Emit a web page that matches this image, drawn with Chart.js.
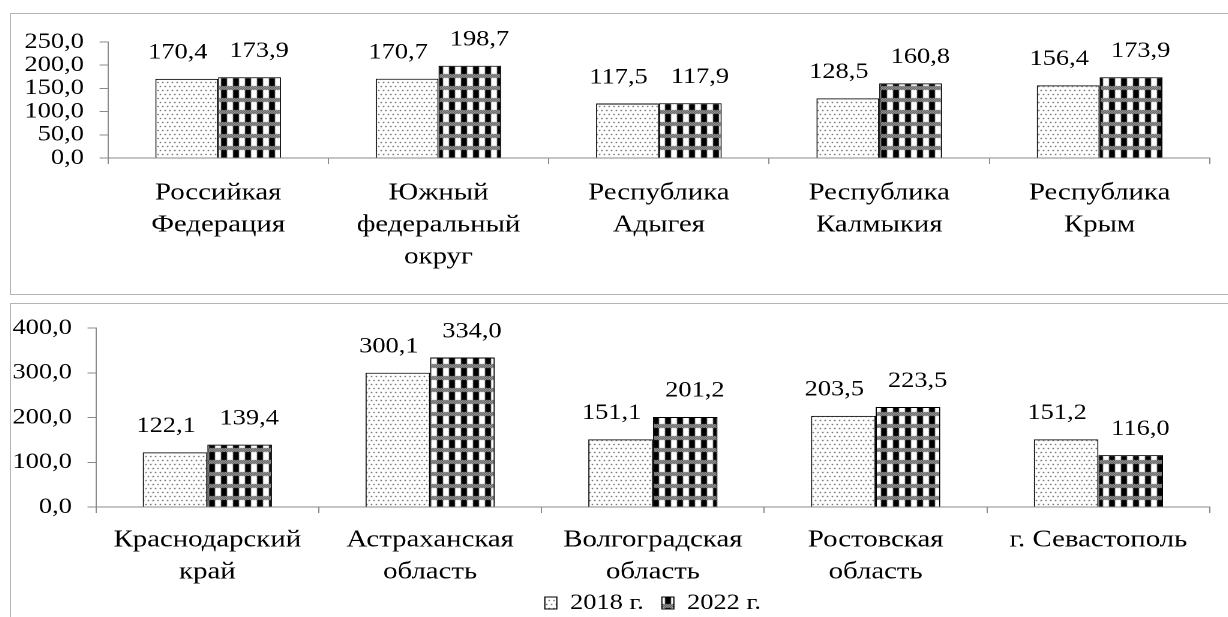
<!DOCTYPE html>
<html lang="ru">
<head>
<meta charset="UTF-8">
<title>2018 / 2022</title>
<script src="https://cdn.jsdelivr.net/npm/chart.js@4"></script>
<style>
  html, body { margin: 0; padding: 0; background: #fff; overflow: hidden; }
  body { width: 1228px; height: 617px; position: relative; }
  .box { position: absolute; left: 10px; width: 1240px; border: 1px solid #b4b4b4; box-sizing: border-box; }
  #boxTop { top: 13px; height: 282px; }
  #boxBottom { top: 303px; height: 340px; }
  /* the reference is stretched horizontally, so the drawing is too */
  .stretch { transform: scaleX(1.2); transform-origin: 0 0; }
</style>
</head>
<body>
<div class="box" id="boxTop"><div class="stretch"><canvas id="chartTop" width="1015" height="280"></canvas></div></div>
<div class="box" id="boxBottom"><div class="stretch"><canvas id="chartBottom" width="1015" height="320"></canvas></div></div>
<script>
// данные
const years = ['2018 г.', '2022 г.'];

const topCategories = [
  ['Российкая', 'Федерация'],
  ['Южный', 'федеральный', 'округ'],
  ['Республика', 'Адыгея'],
  ['Республика', 'Калмыкия'],
  ['Республика', 'Крым']
];
const top2018 = [170.4, 170.7, 117.5, 128.5, 156.4];
const top2022 = [173.9, 198.7, 117.9, 160.8, 173.9];
const topTicks = [0, 50, 100, 150, 200, 250];

const bottomCategories = [
  ['Краснодарский', 'край'],
  ['Астраханская', 'область'],
  ['Волгоградская', 'область'],
  ['Ростовская', 'область'],
  'г. Севастополь'
];
const bottom2018 = [122.1, 300.1, 151.1, 203.5, 151.2];
const bottom2022 = [139.4, 334.0, 201.2, 223.5, 116.0];
const bottomTicks = [0, 100, 200, 300, 400];

const FONT = 'Liberation Serif';
const AXIS = '#8a8a8a';

const fmt = v => v.toFixed(1).replace('.', ',');

// штриховки
function makePattern(w, h, draw) {
  const tile = document.createElement('canvas');
  tile.width = w;
  tile.height = h;
  const c = tile.getContext('2d');
  c.fillStyle = '#fff';
  c.fillRect(0, 0, w, h);
  draw(c);
  return c.createPattern(tile, 'repeat');
}

const dots = makePattern(4, 8, c => {
  c.fillStyle = '#111';
  c.fillRect(0, 0, 1, 1);
  c.fillRect(2, 4, 1, 1);
});

const checks = makePattern(10, 12, c => {
  for (let x = 0; x < 10; x++) {
    for (let y = 0; y < 4; y++) {
      c.fillStyle = (x + y) % 2 ? '#333' : '#c8c8c8';
      c.fillRect(x, y, 1, 1);
    }
  }
  c.fillStyle = '#000';
  c.fillRect(5, 4, 5, 8);
});

// подписи значений над столбцами (2018 чуть левее, 2022 чуть правее)
const labelShift = [-7.5, 8];
const valueLabels = {
  id: 'valueLabels',
  afterDatasetsDraw(chart) {
    const ctx = chart.ctx;
    ctx.save();
    ctx.font = '22px "' + FONT + '"';
    ctx.fillStyle = '#000';
    ctx.textAlign = 'center';
    ctx.textBaseline = 'middle';
    chart.data.datasets.forEach((ds, i) => {
      chart.getDatasetMeta(i).data.forEach((bar, j) => {
        ctx.fillText(fmt(ds.data[j]), bar.x + labelShift[i], bar.y - 26);
      });
    });
    ctx.restore();
  }
};

function makeChart(id, cats, d2018, d2022, ticks, cfg) {
  return new Chart(document.getElementById(id), {
    type: 'bar',
    data: {
      labels: cats,
      datasets: [
        { label: years[0], data: d2018, backgroundColor: dots, borderColor: '#000', borderWidth: 1 },
        { label: years[1], data: d2022, backgroundColor: checks, borderColor: '#000', borderWidth: 1 }
      ]
    },
    options: {
      responsive: false,
      animation: false,
      devicePixelRatio: 2,
      layout: { padding: cfg.padding },
      datasets: { bar: { barPercentage: 1, categoryPercentage: cfg.catPct } },
      plugins: {
        title: { display: false },
        tooltip: { enabled: false },
        legend: {
          display: cfg.legend,
          position: 'bottom',
          fullSize: false,
          labels: {
            color: '#000',
            font: { family: FONT, size: 22 },
            boxWidth: 10,
            boxHeight: 12,
            padding: 4,
            // немного воздуха между элементами легенды
            generateLabels: chart => Chart.defaults.plugins.legend.labels.generateLabels(chart)
              .map((item, i) => i === 0 ? Object.assign(item, { text: item.text + '\u2002' }) : item)
          }
        }
      },
      scales: {
        x: {
          grid: { display: true, drawOnChartArea: false, offset: true, color: AXIS, tickLength: 6 },
          border: { color: AXIS },
          ticks: {
            color: '#000',
            maxRotation: 0,
            autoSkip: false,
            padding: cfg.xPad,
            font: { family: FONT, size: 24, lineHeight: 1.333 }
          },
          afterFit: s => { s.height = cfg.xHeight; }
        },
        y: {
          min: ticks[0],
          max: ticks[ticks.length - 1],
          grid: { display: true, drawOnChartArea: false, color: AXIS, tickLength: 7 },
          border: { color: AXIS },
          afterBuildTicks: s => { s.ticks = ticks.map(v => ({ value: v })); },
          ticks: {
            color: '#000',
            autoSkip: false,
            padding: 13,
            font: { family: FONT, size: 22, lineHeight: 1 },
            callback: v => fmt(v)
          },
          afterFit: s => { s.width = cfg.yWidth; }
        }
      }
    },
    plugins: [valueLabels]
  });
}

makeChart('chartTop', topCategories, top2018, top2022, topTicks, {
  padding: { top: 28, right: 16, left: 0, bottom: 0 },
  catPct: 0.57,
  legend: false,
  xPad: 13,
  xHeight: 136,
  yWidth: 80.8
});

makeChart('chartBottom', bottomCategories, bottom2018, bottom2022, bottomTicks, {
  padding: { top: 15, right: 16, left: 0, bottom: 0 },
  catPct: 0.58,
  legend: true,
  xPad: 11,
  xHeight: 81,
  yWidth: 70.8
});
</script>
</body>
</html>
